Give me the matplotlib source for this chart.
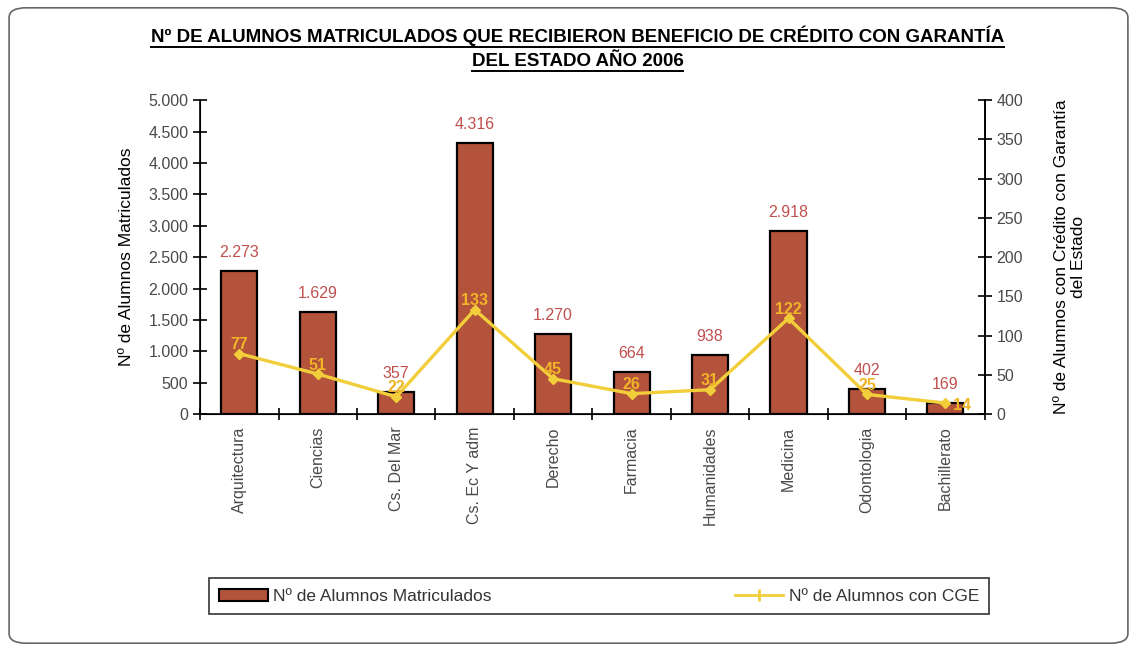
import matplotlib.pyplot as plt
from matplotlib.patches import FancyBboxPatch
from matplotlib.lines import Line2D
from matplotlib.ticker import FuncFormatter, FixedLocator
import numpy as np

plt.rcParams['font.family'] = ['Liberation Sans', 'DejaVu Sans']

carreras = ["Arquitectura", "Ciencias", "Cs. Del Mar", "Cs. Ec Y adm", "Derecho",
            "Farmacia", "Humanidades", "Medicina", "Odontologia", "Bachillerato"]
matriculados = [2273, 1629, 357, 4316, 1270, 664, 938, 2918, 402, 169]
con_cge = [77, 51, 22, 133, 45, 26, 31, 122, 25, 14]

bar_color = '#b4533b'
line_color = '#f2cf3a'
label_red = '#c0504d'
label_yel = '#f0b428'
grey = '#4a4a4a'

fig = plt.figure(figsize=(11.37, 6.51), dpi=100)

# rounded outer frame
frame = FancyBboxPatch((0.008, 0.012), 0.984, 0.976, boxstyle="round,pad=0,rounding_size=0.015",
                       transform=fig.transFigure, fill=False, edgecolor='#666666', linewidth=1.2)
fig.patches.append(frame)

ax = fig.add_axes([0.176, 0.364, 0.690, 0.482])
x = np.arange(len(carreras))
ax.bar(x, matriculados, width=0.46, color=bar_color, edgecolor='black', linewidth=1.6, zorder=2)
ax.set_xlim(-0.5, len(carreras) - 0.5)
ax.set_ylim(0, 5000)
ax.set_yticks(np.arange(0, 5001, 500))
ax.yaxis.set_major_formatter(FuncFormatter(lambda v, p: f"{int(v):,}".replace(",", ".")))
ax.set_xticks(x)
ax.set_xticklabels(carreras, rotation=90, fontsize=11.5, color=grey)
ax.xaxis.set_minor_locator(FixedLocator(np.arange(-0.5, len(carreras), 1)))
ax.tick_params(axis='x', which='major', length=0, pad=9)
ax.tick_params(axis='x', which='minor', length=8, direction='inout', width=1.2)
ax.tick_params(axis='y', direction='inout', length=10, width=1.2, labelsize=11.5, labelcolor=grey)
ax.spines['top'].set_visible(False)
for s in ['left', 'bottom', 'right']:
    ax.spines[s].set_linewidth(1.2)
ax.set_ylabel("Nº de Alumnos Matriculados", fontsize=12.5, labelpad=10)

for xi, v in zip(x, matriculados):
    ax.annotate(f"{v:,}".replace(",", "."), (xi, v), xytext=(0, 8), textcoords='offset points',
                ha='center', va='bottom', color=label_red, fontsize=11.5)

ax2 = ax.twinx()
ax2.plot(x, con_cge, color=line_color, linewidth=2.4, marker='D', markersize=5,
         markerfacecolor=line_color, markeredgecolor=line_color, zorder=3)
ax2.set_ylim(0, 400)
ax2.set_yticks(np.arange(0, 401, 50))
ax2.tick_params(axis='y', direction='inout', length=10, width=1.2, labelsize=11.5, labelcolor=grey)
ax2.spines['top'].set_visible(False)
ax2.spines['right'].set_linewidth(1.2)
ax2.set_ylabel("Nº de Alumnos con Crédito con Garantía\ndel Estado", fontsize=12.5, labelpad=22)
for i, (xi, v) in enumerate(zip(x, con_cge)):
    off = (12, -7) if i == len(con_cge) - 1 else (0, 1)
    ax2.annotate(str(v), (xi, v), xytext=off, textcoords='offset points',
                 ha='center', va='bottom', color=label_yel, fontsize=11.5, fontweight='bold')

# title with underline
t1 = fig.text(0.508, 0.945, "Nº DE ALUMNOS MATRICULADOS QUE RECIBIERON BENEFICIO DE CRÉDITO CON GARANTÍA",
              ha='center', va='center', fontsize=13.5, fontweight='bold')
t2 = fig.text(0.508, 0.905, "DEL ESTADO AÑO 2006", ha='center', va='center', fontsize=13.5,
              fontweight='bold')
fig.canvas.draw()
r = fig.canvas.get_renderer()
for t in (t1, t2):
    bb = t.get_window_extent(r).transformed(fig.transFigure.inverted())
    fig.lines.append(Line2D([bb.x0, bb.x1], [bb.y0 - 0.001, bb.y0 - 0.001], transform=fig.transFigure,
                            color='black', linewidth=1.4))

# legend
handles = [plt.Rectangle((0, 0), 1, 1, facecolor=bar_color, edgecolor='black', linewidth=1.5),
           Line2D([], [], color=line_color, linewidth=2, marker='|', markersize=8, markeredgewidth=2)]
leg = fig.legend(handles, ["Nº de Alumnos Matriculados", "Nº de Alumnos con CGE"], ncol=2,
                 loc='center', bbox_to_anchor=(0.527, 0.084), frameon=True, fancybox=False,
                 edgecolor='black', fontsize=12.5, columnspacing=14, handlelength=2.8,
                 borderpad=0.6, handletextpad=0.3)
leg.get_frame().set_linewidth(1.2)
for txt in leg.get_texts():
    txt.set_color('#333333')

fig.savefig("out.png", dpi=100)
